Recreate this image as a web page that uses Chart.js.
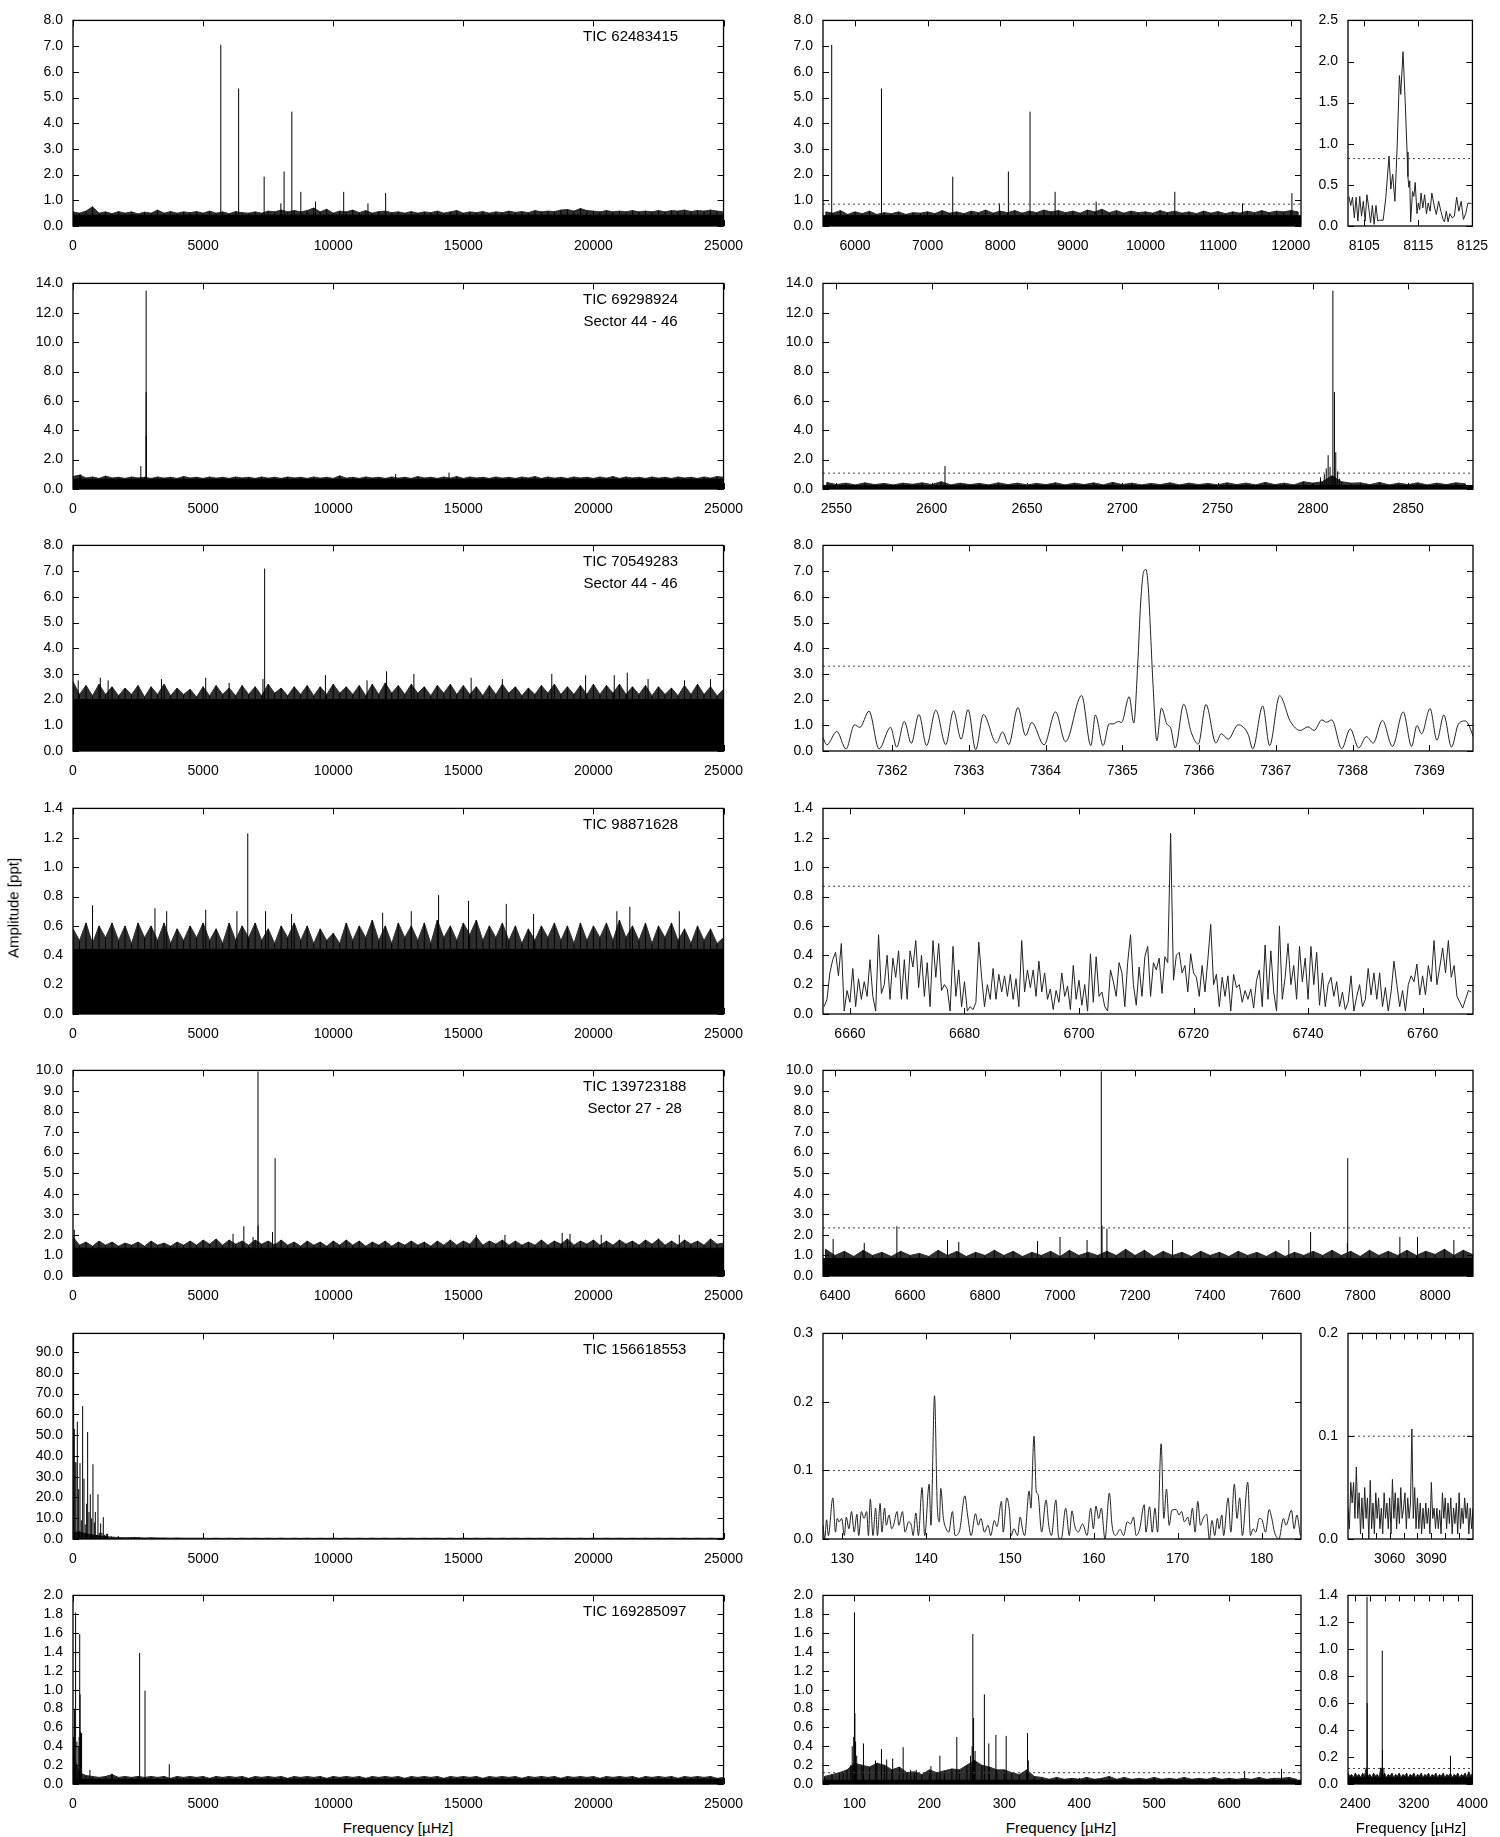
<!DOCTYPE html>
<html>
<head>
<meta charset="utf-8">
<script src="https://cdn.jsdelivr.net/npm/chart.js@4.4.1/dist/chart.umd.min.js"></script>
<style>
  body { margin: 0; background: #fff; width: 1500px; height: 1837px; position: relative; overflow: hidden;
         font-family: "Liberation Sans", Arial, Helvetica, sans-serif; }
  canvas { position: absolute; }
  .ann { position: absolute; font-size: 15px; line-height: 21.7px; text-align: center; white-space: nowrap; color: #000; }
  .title { position: absolute; font-size: 15px; white-space: nowrap; color: #000; transform: translate(-50%, -50%); }
</style>
</head>
<body>
<script>
/* ===== Data (frequency in µHz, amplitude in ppt) ===== */

// Row 1: TIC 62483415
const r1LeftFloor = 0.42;
const r1LeftNoise = [
  0.55,0.50,0.58,0.75,0.50,0.55,0.48,0.56,0.50,0.55, 0.47,0.54,0.50,0.62,0.50,0.56,0.50,0.55,0.52,0.56,
  0.50,0.58,0.50,0.55,0.48,0.56,0.52,0.50,0.55,0.50, 0.58,0.55,0.62,0.55,0.60,0.55,0.60,0.70,0.55,0.65,
  0.50,0.58,0.55,0.62,0.52,0.60,0.50,0.56,0.58,0.52, 0.55,0.50,0.56,0.50,0.55,0.52,0.58,0.50,0.55,0.60,
  0.50,0.55,0.52,0.56,0.50,0.55,0.52,0.58,0.53,0.56, 0.52,0.60,0.55,0.58,0.56,0.62,0.64,0.58,0.68,0.60,
  0.58,0.55,0.60,0.55,0.58,0.55,0.60,0.55,0.58,0.55, 0.60,0.55,0.60,0.58,0.62,0.56,0.60,0.58,0.62,0.58, 0.55];
const r1Peaks = [[5680,7.05],[6365,5.35],[7346,1.92],[7988,0.88],[8112,2.12],[8410,4.45],[8755,1.33],
  [9320,0.95],[10403,1.33],[11335,0.88],[12015,1.28]];
const r1RightFloor = 0.40;
const r1RightNoiseStart = 5600, r1RightNoiseStep = 100;
const r1RightNoise = [
  0.55,0.50,0.60,0.45,0.55,0.48,0.58,0.45,0.52,0.48, 0.55,0.45,0.52,0.50,0.55,0.48,0.60,0.50,0.55,0.48,
  0.58,0.52,0.62,0.50,0.58,0.52,0.60,0.50,0.58,0.52, 0.62,0.55,0.60,0.52,0.58,0.50,0.62,0.55,0.65,0.52,
  0.60,0.50,0.58,0.52,0.55,0.50,0.60,0.52,0.58,0.50, 0.55,0.48,0.58,0.50,0.56,0.48,0.55,0.50,0.58,0.52,
  0.60,0.52,0.58,0.55,0.60,0.55];
const r1Threshold = 0.85;
const r1Zoom = [[8102.17,0.36],[8102.5,0.25],[8102.83,0.35],[8103.17,0.10],[8103.5,0.35],[8103.83,0.06],
  [8104.17,0.36],[8104.5,0.12],[8104.83,0.30],[8105.17,0.06],[8105.5,0.38],[8105.83,0.22],[8106.17,0.04],
  [8106.5,0.25],[8106.83,0.02],[8107.17,0.25],[8107.5,0.06],[8107.83,0.07],[8108.5,0.07],[8109.0,0.35],
  [8109.58,0.85],[8109.92,0.45],[8110.25,0.63],[8110.67,0.30],[8111.08,0.95],[8111.5,1.83],[8111.75,1.60],
  [8112.17,2.12],[8112.58,1.50],[8112.92,0.90],[8113.08,0.60],[8113.25,0.47],[8113.42,0.55],[8113.58,0.05],
  [8113.92,0.42],[8114.17,0.36],[8114.42,0.53],[8114.75,0.15],[8115.0,0.28],[8115.25,0.20],[8115.5,0.40],
  [8115.83,0.22],[8116.17,0.38],[8116.5,0.15],[8116.83,0.28],[8117.17,0.18],[8117.5,0.40],[8117.92,0.25],
  [8118.33,0.14],[8118.75,0.30],[8119.17,0.18],[8119.58,0.08],[8119.83,0.05],[8120.17,0.18],[8120.5,0.05],
  [8120.83,0.15],[8121.25,0.10],[8121.67,0.12],[8122.08,0.35],[8122.5,0.18],[8122.92,0.30],[8123.33,0.08],
  [8123.75,0.15],[8124.17,0.28],[8124.83,0.27]];
const r1ZoomThreshold = 0.82;

// Row 2: TIC 69298924
const r2LeftFloor = 0.66;
const r2LeftNoise = [
  0.85,0.95,0.75,0.82,0.72,0.88,0.75,0.80,0.72,0.82, 0.75,0.80,0.72,0.82,0.74,0.80,0.72,0.85,0.75,0.80,
  0.72,0.82,0.74,0.80,0.72,0.82,0.75,0.80,0.72,0.82, 0.74,0.80,0.72,0.82,0.75,0.80,0.72,0.82,0.74,0.80,
  0.72,0.90,0.74,0.80,0.72,0.82,0.75,0.80,0.72,0.82, 0.74,0.80,0.72,0.85,0.75,0.80,0.72,0.82,0.74,0.85,
  0.72,0.82,0.75,0.80,0.72,0.82,0.74,0.80,0.72,0.82, 0.75,0.85,0.72,0.82,0.74,0.80,0.72,0.82,0.75,0.80,
  0.72,0.82,0.74,0.85,0.72,0.82,0.75,0.80,0.72,0.82, 0.74,0.80,0.72,0.82,0.75,0.80,0.72,0.82,0.74,0.85, 0.80];
const r2Peaks = [[300,1.0],[2607,1.56],[2810.5,13.5],[2811.3,6.6],[2814,3.6],[12400,1.02],[14450,1.12]];
const r2RightFloor = 0.24;
const r2RightNoiseStart = 2545, r2RightNoiseStep = 5;
const r2RightNoise = [
  0.45,0.30,0.40,0.28,0.42,0.30,0.38,0.28,0.40,0.32, 0.42,0.30,0.50,0.28,0.40,0.30,0.38,0.28,0.42,0.30,
  0.40,0.28,0.38,0.30,0.42,0.28,0.40,0.30,0.42,0.28, 0.45,0.30,0.40,0.28,0.38,0.30,0.42,0.28,0.40,0.30,
  0.38,0.28,0.42,0.30,0.40,0.28,0.45,0.30,0.40,0.28, 0.50,0.40,0.50,0.90,0.50,0.40,0.42,0.30,0.45,0.28,
  0.40,0.30,0.42,0.28,0.40,0.30,0.42,0.35];
const r2RightPeaks = [[2607,1.56],[2804,0.8],[2806,1.0],[2807,1.4],[2808,2.3],[2809,1.5],[2810.5,13.5],
  [2811.3,6.6],[2812,2.5],[2813,1.2],[2814,0.7]];
const r2Threshold = 1.08;

// Row 3: TIC 70549283
const r3LeftFloor = 2.0;
const r3LeftNoise = [
  2.70,2.20,2.55,2.15,2.60,2.20,2.50,2.15,2.45,2.20, 2.55,2.10,2.50,2.20,2.60,2.15,2.45,2.20,2.40,2.10,
  2.50,2.15,2.55,2.20,2.45,2.15,2.55,2.20,2.50,2.15, 2.60,2.25,2.45,2.15,2.50,2.20,2.55,2.15,2.50,2.20,
  2.60,2.25,2.50,2.20,2.55,2.15,2.60,2.20,2.65,2.25, 2.55,2.20,2.60,2.25,2.50,2.15,2.55,2.25,2.60,2.20,
  2.55,2.20,2.50,2.15,2.55,2.20,2.60,2.25,2.50,2.15, 2.45,2.20,2.55,2.25,2.60,2.20,2.50,2.20,2.55,2.20,
  2.60,2.20,2.55,2.25,2.60,2.20,2.50,2.20,2.55,2.15, 2.50,2.20,2.45,2.15,2.55,2.20,2.60,2.20,2.50,2.15, 2.40];
const r3LeftHairs = [[200,2.75],[1050,2.85],[1350,2.75],[3400,2.8],[5100,2.85],[6000,2.65],[7300,2.8],[9700,2.95],
  [11300,2.75],[12050,3.1],[13100,3.0],[15300,2.85],[16500,2.8],[18400,3.0],[19700,2.95],[20800,2.95],
  [21300,3.05],[22100,2.8],[23500,2.75],[24500,2.8]];
const r3Peaks = [[7365.3,7.1]];
const r3Zoom = [[7361.10,0.52],[7361.15,0.24],[7361.28,0.76],[7361.40,0.08],[7361.51,1.02],[7361.58,0.92],
  [7361.70,1.55],[7361.83,0.08],[7361.98,0.92],[7362.06,0.15],[7362.16,1.15],[7362.25,0.30],[7362.35,1.42],
  [7362.45,0.21],[7362.57,1.59],[7362.70,0.25],[7362.80,1.56],[7362.90,0.46],[7362.99,1.61],[7363.09,0.05],
  [7363.19,1.42],[7363.36,0.31],[7363.44,0.74],[7363.52,0.25],[7363.64,1.69],[7363.74,0.60],[7363.82,1.11],
  [7363.98,0.24],[7364.13,1.52],[7364.26,0.36],[7364.47,2.16],[7364.59,0.21],[7364.65,1.40],[7364.75,0.21],
  [7364.83,1.06],[7364.88,1.05],[7364.95,1.15],[7364.99,1.11],[7365.09,2.11],[7365.15,1.09],[7365.20,3.3],
  [7365.24,5.8],[7365.28,7.0],[7365.31,7.06],[7365.34,6.3],[7365.37,4.5],[7365.40,2.6],[7365.45,0.40],
  [7365.51,1.67],[7365.58,1.05],[7365.63,0.90],[7365.69,0.12],[7365.80,1.82],[7365.90,0.71],[7365.99,0.27],
  [7366.09,1.81],[7366.22,0.31],[7366.29,0.67],[7366.38,0.46],[7366.51,1.02],[7366.64,0.65],[7366.70,0.08],
  [7366.83,1.75],[7366.92,0.21],[7367.05,2.15],[7367.19,1.15],[7367.32,0.80],[7367.42,0.94],[7367.50,0.80],
  [7367.60,1.21],[7367.66,1.12],[7367.73,1.21],[7367.86,0.09],[7367.97,0.86],[7368.08,0.12],[7368.18,0.56],
  [7368.27,0.31],[7368.39,1.19],[7368.52,0.18],[7368.66,1.52],[7368.77,0.18],[7368.84,0.99],[7368.90,0.67],
  [7369.01,1.65],[7369.10,0.42],[7369.19,1.40],[7369.29,0.15],[7369.38,1.05],[7369.47,1.17],[7369.59,0.46]];
const r3Threshold = 3.3;

// Row 4: TIC 98871628
const r4LeftFloor = 0.44;
const r4LeftNoise = [
  0.58,0.50,0.62,0.48,0.60,0.52,0.62,0.50,0.60,0.48, 0.62,0.52,0.60,0.50,0.62,0.48,0.58,0.50,0.60,0.52,
  0.62,0.50,0.58,0.48,0.62,0.50,0.60,0.52,0.62,0.50, 0.58,0.48,0.60,0.52,0.62,0.50,0.60,0.48,0.58,0.50,
  0.55,0.48,0.62,0.50,0.60,0.52,0.64,0.50,0.60,0.48, 0.62,0.52,0.60,0.50,0.62,0.48,0.64,0.52,0.60,0.50,
  0.62,0.54,0.64,0.50,0.60,0.52,0.62,0.50,0.60,0.48, 0.58,0.50,0.60,0.52,0.62,0.50,0.60,0.48,0.62,0.50,
  0.60,0.52,0.62,0.50,0.64,0.52,0.60,0.50,0.62,0.48, 0.60,0.52,0.62,0.50,0.58,0.48,0.60,0.50,0.58,0.48, 0.52];
const r4LeftHairs = [[750,0.74],[3150,0.72],[3600,0.70],[5100,0.71],[6300,0.70],[7400,0.70],[8400,0.68],
  [11900,0.69],[13000,0.70],[14050,0.81],[15200,0.77],[16650,0.75],[17700,0.68],[20900,0.70],[21400,0.73],[23300,0.70]];
const r4Peaks = [[6716,1.23]];
const r4ZoomStart = 6655.5, r4ZoomStep = 0.5;
const r4Zoom = [
  0.05,0.10,0.28,0.37,0.42,0.26,0.48,0.02,0.16,0.08, 0.31,0.05,0.24,0.10,0.22,0.12,0.37,0.12,0.02,0.54,
  0.14,0.20,0.40,0.10,0.38,0.25,0.43,0.10,0.37,0.10, 0.43,0.32,0.50,0.18,0.40,0.12,0.35,0.05,0.50,0.25,
  0.48,0.16,0.20,0.17,0.02,0.46,0.12,0.30,0.05,0.22, 0.02,0.05,0.03,0.08,0.49,0.25,0.05,0.20,0.10,0.31,
  0.10,0.27,0.15,0.26,0.12,0.27,0.10,0.24,0.05,0.50, 0.15,0.30,0.18,0.30,0.12,0.36,0.15,0.28,0.10,0.17,
  0.03,0.16,0.08,0.28,0.12,0.19,0.03,0.33,0.10,0.23, 0.06,0.20,0.02,0.41,0.08,0.39,0.12,0.15,0.05,0.02,
  0.30,0.22,0.12,0.35,0.28,0.05,0.35,0.54,0.20,0.06, 0.32,0.12,0.39,0.46,0.12,0.35,0.30,0.38,0.14,0.39,
  0.35,1.23,0.23,0.40,0.42,0.28,0.33,0.15,0.41,0.28, 0.25,0.12,0.33,0.15,0.37,0.61,0.20,0.27,0.05,0.25,
  0.12,0.26,0.02,0.27,0.18,0.20,0.08,0.16,0.10,0.17, 0.04,0.23,0.30,0.05,0.47,0.10,0.43,0.15,0.02,0.60,
  0.10,0.25,0.48,0.20,0.33,0.10,0.46,0.22,0.38,0.10, 0.46,0.20,0.42,0.06,0.28,0.05,0.20,0.25,0.12,0.22,
  0.05,0.15,0.03,0.08,0.26,0.02,0.12,0.20,0.05,0.10, 0.31,0.13,0.28,0.10,0.28,0.05,0.18,0.02,0.15,0.36,
  0.20,0.05,0.16,0.02,0.20,0.26,0.22,0.34,0.13,0.26, 0.13,0.33,0.22,0.50,0.20,0.32,0.45,0.28,0.50,0.25,
  0.33,0.12,0.08,0.04,0.10,0.16,0.15];
const r4Threshold = 0.87;

// Row 5: TIC 139723188
const r5LeftFloor = 1.35;
const r5LeftNoise = [
  1.90,1.50,1.65,1.45,1.70,1.50,1.65,1.45,1.60,1.50, 1.65,1.45,1.70,1.50,1.60,1.45,1.65,1.50,1.70,1.50,
  1.75,1.55,1.80,1.50,1.75,1.55,1.70,1.50,1.75,1.55, 1.70,1.50,1.75,1.50,1.65,1.45,1.70,1.50,1.65,1.45,
  1.70,1.50,1.75,1.50,1.70,1.45,1.65,1.50,1.70,1.45, 1.65,1.50,1.70,1.50,1.65,1.45,1.70,1.50,1.75,1.50,
  1.70,1.55,1.90,1.50,1.70,1.55,1.75,1.50,1.70,1.50, 1.65,1.50,1.75,1.50,1.70,1.55,1.80,1.50,1.70,1.55,
  1.75,1.50,1.70,1.50,1.75,1.55,1.70,1.50,1.75,1.55, 1.80,1.50,1.70,1.50,1.75,1.55,1.70,1.50,1.80,1.55, 1.60];
const r5LeftHairs = [[50,2.25],[6150,2.05],[6920,1.9],[15500,2.0],[16600,2.0],[18800,2.1],[19100,2.05],[20300,2.0],[23300,2.0]];
const r5Peaks = [[6565,2.42],[7110,9.95],[7112,2.45],[7668,2.14],[7767,5.73],[7766,1.6]];
const r5RightFloor = 0.85;
const r5RightNoiseStart = 6375, r5RightNoiseStep = 25;
const r5RightNoise = [
  1.30,1.00,1.20,0.95,1.25,1.00,1.15,0.95,1.20,1.00, 1.10,0.95,1.25,1.00,1.20,0.95,1.15,1.00,1.25,1.00,
  1.20,0.95,1.15,1.00,1.20,0.95,1.25,1.00,1.15,1.00, 1.20,1.00,1.30,1.00,1.25,0.95,1.20,1.00,1.15,0.95,
  1.20,1.00,1.15,0.95,1.20,1.00,1.15,0.95,1.20,0.95, 1.15,1.00,1.20,1.00,1.25,1.00,1.20,0.95,1.25,1.00,
  1.20,1.00,1.25,1.00,1.20,1.05,1.30,1.00,1.25,1.05];
const r5RightHairs = [[6395,1.8],[6478,1.6],[6700,1.75],[6730,1.65],[6940,1.7],[7000,1.9],[7072,1.75],[7125,2.3],
  [7300,1.75],[7610,1.75],[7906,1.9],[7953,1.9],[8050,1.75]];
const r5Threshold = 2.34;

// Row 6: TIC 156618553
const r6LeftNoise = [
  3.0,3.5,2.5,2.0,1.5,1.2,0.9,0.7,0.6,0.7, 0.6,0.5,0.6,0.5,0.5,0.4,0.5,0.4,0.4,0.4,
  0.4,0.3,0.4,0.3,0.4,0.3,0.4,0.3,0.4,0.3, 0.4,0.3,0.4,0.3,0.4,0.3,0.4,0.3,0.4,0.3,
  0.4,0.3,0.4,0.3,0.4,0.3,0.4,0.3,0.4,0.3, 0.4,0.3,0.4,0.3,0.4,0.3,0.4,0.3,0.4,0.3,
  0.4,0.3,0.4,0.3,0.4,0.3,0.4,0.3,0.4,0.3, 0.4,0.3,0.4,0.3,0.4,0.3,0.4,0.3,0.4,0.3,
  0.4,0.3,0.4,0.3,0.4,0.3,0.4,0.3,0.4,0.3, 0.4,0.3,0.4,0.3,0.4,0.3,0.4,0.3,0.4,0.3, 0.4];
const r6Peaks = [[25,99],[50,53],[80,37],[115,37],[166,56.5],[217,24],[269,36.5],[320,9],[371,64],[422,29],
  [470,7],[524,17],[563,51.5],[614,13],[665,21.5],[716,10],[767,36],[820,8],[857,13],[910,2],[959,21.5],
  [1010,3],[1062,7.5],[1110,3],[1164,10.5],[1215,2],[1279,2.5],[1330,2.5],[1400,0.5],[1480,1.2],[1580,0.8],
  [1740,1.5],[1850,0.5],[2250,0.6],[2379,1.0],[2460,0.6],[2532,1.0],[2650,0.5],[2788,0.5],[3300,0.4]];
const r6Zoom = [[127.7,0.02],[127.9,0.0],[128.13,0.028],[128.34,0.005],[128.87,0.06],[129.19,0.01],[129.4,0.03],
  [129.62,0.025],[129.93,0.03],[130.25,0.005],[130.47,0.032],[130.79,0.015],[131.1,0.04],[131.42,0.01],
  [131.74,0.036],[131.96,0.005],[132.28,0.04],[132.59,0.03],[132.91,0.04],[133.12,0.005],[133.34,0.058],
  [133.66,0.005],[133.98,0.045],[134.19,0.005],[134.51,0.052],[134.72,0.01],[135.04,0.045],[135.25,0.02],
  [135.57,0.035],[135.89,0.015],[136.11,0.02],[136.53,0.04],[136.74,0.02],[137.17,0.04],[137.49,0.01],
  [137.91,0.025],[138.23,0.02],[138.45,0.005],[138.77,0.038],[139.08,0.005],[139.51,0.075],[139.83,0.005],
  [140.36,0.08],[140.57,0.02],[141.0,0.209],[141.32,0.05],[141.58,0.025],[141.74,0.074],[142.06,0.03],
  [142.38,0.015],[142.7,0.01],[143.13,0.04],[143.45,0.005],[143.98,0.012],[144.62,0.063],[144.94,0.035],
  [145.36,0.005],[145.89,0.037],[146.21,0.02],[146.53,0.03],[146.96,0.01],[147.38,0.02],[147.7,0.005],
  [148.13,0.027],[148.45,0.018],[148.98,0.055],[149.19,0.01],[149.62,0.06],[149.94,0.04],[150.15,0.005],
  [150.47,0.015],[150.9,0.005],[151.21,0.032],[151.53,0.012],[151.75,0.005],[152.28,0.07],[152.49,0.045],
  [152.86,0.15],[153.13,0.07],[153.34,0.065],[153.77,0.01],[154.3,0.057],[154.62,0.02],[154.94,0.005],
  [155.47,0.057],[155.79,0.003],[156.11,0.0],[156.64,0.045],[157.07,0.005],[157.39,0.041],[157.7,0.02],
  [158.13,0.01],[158.66,0.022],[159.19,0.005],[159.62,0.045],[159.94,0.015],[160.25,0.048],[160.57,0.03],
  [160.89,0.045],[161.32,0.0],[161.85,0.067],[162.17,0.02],[162.59,0.005],[163.12,0.014],[163.55,0.005],
  [163.98,0.025],[164.4,0.022],[164.72,0.032],[165.04,0.005],[165.47,0.015],[166.0,0.05],[166.21,0.01],
  [166.64,0.047],[166.96,0.01],[167.28,0.045],[167.6,0.01],[168.02,0.139],[168.34,0.03],[168.66,0.073],
  [168.98,0.02],[169.3,0.042],[169.83,0.043],[170.15,0.035],[170.47,0.04],[170.79,0.025],[171.22,0.032],
  [171.43,0.02],[171.75,0.045],[172.07,0.01],[172.39,0.055],[172.71,0.02],[173.03,0.03],[173.45,0.036],
  [173.77,0.0],[174.09,0.027],[174.41,0.005],[174.73,0.03],[174.94,0.015],[175.26,0.035],[175.47,0.005],
  [176.01,0.06],[176.33,0.01],[176.75,0.08],[177.07,0.03],[177.39,0.06],[177.71,0.005],[178.35,0.083],
  [178.67,0.005],[178.99,0.015],[179.3,0.01],[179.73,0.03],[180.05,0.028],[180.47,0.01],[180.9,0.043],
  [181.22,0.03],[181.54,0.01],[182.07,0.0],[182.6,0.03],[182.92,0.02],[183.56,0.042],[183.88,0.015],
  [184.2,0.035],[184.62,0.005]];
const r6Threshold = 0.1;
const r6Zoom2Start = 3030, r6Zoom2Step = 1;
const r6Zoom2 = [
  0.030,0.010,0.055,0.035,0.055,0.020,0.070,0.020,0.045,0.005, 0.040,0.010,0.050,0.020,0.040,0.000,0.057,0.010,0.035,0.005,
  0.045,0.020,0.040,0.010,0.030,0.005,0.045,0.020,0.035,0.010, 0.040,0.005,0.058,0.020,0.045,0.010,0.040,0.015,0.050,0.020,
  0.030,0.045,0.010,0.040,0.020,0.035,0.107,0.020,0.050,0.010, 0.040,0.010,0.035,0.005,0.030,0.010,0.035,0.015,0.030,0.005,
  0.055,0.020,0.030,0.010,0.030,0.010,0.028,0.005,0.045,0.020, 0.040,0.010,0.035,0.015,0.040,0.005,0.030,0.015,0.035,0.005,
  0.045,0.010,0.030,0.015,0.040,0.020,0.035,0.005,0.030,0.010, 0.030];
const r6Zoom2Threshold = 0.1;

// Row 7: TIC 169285097
const r7LeftFloor = 0.05;
const r7LeftNoise = [
  0.30,0.12,0.09,0.08,0.07,0.08,0.10,0.07,0.08,0.07, 0.08,0.07,0.08,0.07,0.08,0.06,0.08,0.07,0.08,0.07,
  0.08,0.06,0.08,0.07,0.08,0.07,0.08,0.06,0.08,0.07, 0.08,0.07,0.08,0.06,0.08,0.07,0.08,0.07,0.08,0.06,
  0.08,0.07,0.08,0.07,0.08,0.06,0.08,0.07,0.08,0.07, 0.08,0.06,0.08,0.07,0.08,0.07,0.08,0.06,0.08,0.07,
  0.08,0.07,0.08,0.06,0.08,0.07,0.08,0.07,0.08,0.06, 0.08,0.07,0.08,0.07,0.08,0.06,0.08,0.07,0.08,0.07,
  0.08,0.06,0.08,0.07,0.08,0.07,0.08,0.06,0.08,0.07, 0.08,0.07,0.08,0.06,0.08,0.07,0.08,0.07,0.08,0.06, 0.07];
const r7LeftPeaks = [[20,0.5],[60,0.8],[100,1.82],[150,0.45],[200,0.4],[237,0.5],[258,1.59],[273,0.95],[290,0.55],
  [310,0.52],[331,0.54],[650,0.15],[1500,0.11],[2560,1.39],[2768,0.99],[3700,0.21]];
const r7RightFloor = 0.04;
const r7RightNoiseStart = 60, r7RightNoiseStep = 10;
const r7RightNoise = [
  0.08,0.10,0.12,0.15,0.22,0.20,0.18,0.22,0.20,0.15, 0.18,0.12,0.13,0.10,0.15,0.12,0.14,0.16,0.15,0.20,
  0.25,0.20,0.18,0.15,0.15,0.12,0.10,0.15,0.08,0.07, 0.05,0.07,0.05,0.06,0.05,0.07,0.05,0.06,0.08,0.05,
  0.07,0.05,0.06,0.05,0.07,0.05,0.06,0.05,0.07,0.05, 0.06,0.05,0.07,0.05,0.06,0.05,0.06,0.05,0.07,0.05,
  0.06,0.06,0.07,0.05];
const r7RightPeaks = [[85,0.12],[95,0.2],[97,0.4],[99,0.5],[100,1.82],[100.6,0.75],[101.5,0.45],[103,0.3],
  [112,0.43],[128,0.25],[136,0.37],[143,0.26],[151,0.27],[165,0.39],[175,0.15],[182.5,0.15],[202,0.19],
  [214,0.30],[236.6,0.50],[255,0.3],[257,0.4],[258,1.59],[259,0.70],[261,0.35],[273.4,0.95],[279.3,0.43],
  [288.8,0.52],[302.5,0.51],[331,0.54],[332,0.25],[620.8,0.14],[670,0.16]];
const r7Threshold = 0.12;
const r7Zoom2Floor = 0.045;
const r7Zoom2NoiseStart = 2300, r7Zoom2NoiseStep = 25;
const r7Zoom2Noise = [
  0.08,0.06,0.07,0.05,0.08,0.06,0.07,0.05,0.08,0.06, 0.12,0.06,0.07,0.05,0.08,0.06,0.07,0.05,0.12,0.06,
  0.08,0.05,0.07,0.06,0.08,0.05,0.07,0.06,0.08,0.05, 0.07,0.06,0.08,0.05,0.07,0.06,0.08,0.05,0.07,0.06,
  0.08,0.05,0.07,0.06,0.08,0.05,0.07,0.06,0.08,0.05, 0.07,0.06,0.08,0.05,0.07,0.06,0.08,0.05,0.07,0.06,
  0.08,0.05,0.07,0.06,0.08,0.05,0.09,0.06,0.08];
const r7Zoom2Peaks = [[2560,1.39],[2562,0.6],[2768,0.99],[2771,0.25],[2790,0.12],[3700,0.21]];
const r7Zoom2Threshold = 0.115;

const starLabels = [['TIC 62483415'], ['TIC 69298924', 'Sector 44 - 46'], ['TIC 70549283', 'Sector 44 - 46'],
  ['TIC 98871628'], ['TIC 139723188', 'Sector 27 - 28'], ['TIC 156618553'], ['TIC 169285097']];

/* ===== Layout ===== */
const ROW_TOP = [14, 277, 539, 802, 1064, 1327, 1589];
const ROW_BOTTOM = [226, 489, 751, 1014, 1276, 1539, 1784];
const COL_LEFT = { x0: 73, x1: 725, yw: 73, padR: 30 };
const COL_RIGHT_WIDE = { x0: 823, x1: 1473, yw: 50, padR: 27 };
const COL_RIGHT = { x0: 823, x1: 1301, yw: 50, padR: 22 };
const COL_THIRD = { x0: 1348, x1: 1473, yw: 40, padR: 27 };
const TICK_LEN = 6;
const NOISE_GREY = '#2e2e2e';

Chart.defaults.font.family = '"Liberation Sans", Arial, Helvetica, sans-serif';
Chart.defaults.font.size = 14;
Chart.defaults.color = '#000';

/* ===== Helpers ===== */
function tickRange(from, to, step) {
  const out = [];
  for (let v = from; v <= to + step * 1e-6; v += step) {out.push(Number(v.toFixed(6)));}
  return out;
}
function stepPairs(start, step, vals) {
  return vals.map((v, i) => [Number((start + i * step).toFixed(4)), v]);
}
function toPoints(pairs) { return pairs.map(([x, y]) => ({ x, y })); }
function impulseSeries(pairs) {
  const out = [];
  pairs.forEach(([x, y]) => { out.push({ x, y: 0 }, { x, y }, { x, y: null }); });
  return out;
}

// draw order: lower "order" ends up on top
const spikeDS = (pairs, order) => ({ data: impulseSeries(pairs), showLine: true, borderColor: '#000',
  borderWidth: 1, pointRadius: 0, spanGaps: false, order: order === undefined ? 2 : order });
// noise band: dark envelope underneath, solid black floor, and a black hair at every sample
function noiseSet(pairs, floor, xMin, xMax) {
  const sets = [
    { data: toPoints(pairs), showLine: true, fill: 'origin', backgroundColor: NOISE_GREY, borderColor: NOISE_GREY,
      borderWidth: 1, pointRadius: 0, order: 30 },
    spikeDS(pairs, 10)
  ];
  if (floor) {
    sets.push({ data: [{ x: xMin, y: floor }, { x: xMax, y: floor }], showLine: true, fill: 'origin',
      backgroundColor: '#000', borderColor: '#000', borderWidth: 1, pointRadius: 0, order: 20 });
  }
  return sets;
}
const curveDS = (pairs, smooth) => ({ data: toPoints(pairs), showLine: true, borderColor: '#222', borderWidth: 1,
  pointRadius: 0, cubicInterpolationMode: smooth ? 'monotone' : 'default', tension: 0, order: 2 });
const threshDS = (v, min, max) => ({ data: [{ x: min, y: v }, { x: max, y: v }], showLine: true,
  borderColor: '#444', borderWidth: 1, borderDash: [2, 3], pointRadius: 0, order: 1 });

const xAxis = (min, max, ticks, labelled) => ({ min, max, ticks,
  label: v => (!labelled || labelled.includes(v)) ? String(v) : '' });
const yAxis = (max, step, tickMax) => ({ min: 0, max, ticks: tickRange(0, tickMax === undefined ? max : tickMax, step),
  label: v => v.toFixed(1) });

/* ===== Frame and inward mirror ticks ===== */
const framePlugin = {
  id: 'frame',
  afterDraw(chart) {
    const { ctx, chartArea: a } = chart;
    const sx = chart.scales.x, sy = chart.scales.y;
    ctx.save();
    ctx.strokeStyle = '#000';
    ctx.lineWidth = 1;
    ctx.beginPath();
    sx.ticks.forEach(t => {
      const p = Math.round(sx.getPixelForValue(t.value)) + 0.5;
      ctx.moveTo(p, a.bottom); ctx.lineTo(p, a.bottom - TICK_LEN);
      ctx.moveTo(p, a.top); ctx.lineTo(p, a.top + TICK_LEN);
    });
    sy.ticks.forEach(t => {
      const p = Math.round(sy.getPixelForValue(t.value)) + 0.5;
      ctx.moveTo(a.left, p); ctx.lineTo(a.left + TICK_LEN, p);
      ctx.moveTo(a.right, p); ctx.lineTo(a.right - TICK_LEN, p);
    });
    ctx.stroke();
    ctx.lineWidth = 1.3;
    ctx.strokeRect(a.left, a.top, a.right - a.left, a.bottom - a.top);
    ctx.restore();
  }
};

function addPanel(col, row, xa, ya, datasets) {
  const padT = 12, xh = 34;
  const y0 = ROW_TOP[row], y1 = ROW_BOTTOM[row];
  const cv = document.createElement('canvas');
  cv.width = (col.x1 - col.x0) + col.yw + col.padR;
  cv.height = (y1 - y0) + padT + xh;
  cv.style.left = (col.x0 - col.yw) + 'px';
  cv.style.top = (y0 - padT) + 'px';
  cv.style.width = cv.width + 'px';
  cv.style.height = cv.height + 'px';
  document.body.appendChild(cv);

  const scale = (a, pos) => ({
    type: 'linear', position: pos, min: a.min, max: a.max, bounds: 'data',
    grid: { display: false, drawTicks: false }, border: { display: false },
    afterBuildTicks: s => { s.ticks = a.ticks.map(v => ({ value: v })); },
    afterFit: s => { if (pos === 'bottom') {s.height = xh;} else {s.width = col.yw;} },
    ticks: { autoSkip: false, maxRotation: 0, minRotation: 0, padding: pos === 'bottom' ? 12 : 10,
      callback: v => a.label(v) }
  });

  new Chart(cv, {
    type: 'scatter',
    data: { datasets },
    options: {
      responsive: false, animation: false, devicePixelRatio: 1, events: [],
      layout: { autoPadding: false, padding: { top: padT, right: col.padR, left: 0, bottom: 0 } },
      plugins: { legend: { display: false }, tooltip: { enabled: false } },
      scales: { x: scale(xa, 'bottom'), y: scale(ya, 'left') }
    },
    plugins: [framePlugin]
  });
}

/* ===== Panels ===== */
const fullX = xAxis(0, 25000, tickRange(0, 25000, 5000));
const leftNoise = (vals, floor) => noiseSet(stepPairs(0, 250, vals), floor, 0, 25000);

// Row 1
addPanel(COL_LEFT, 0, fullX, yAxis(8, 1), [...leftNoise(r1LeftNoise, r1LeftFloor), spikeDS(r1Peaks)]);
addPanel(COL_RIGHT, 0, xAxis(5560, 12140, tickRange(6000, 12000, 1000)), yAxis(8, 1), [
  ...noiseSet(stepPairs(r1RightNoiseStart, r1RightNoiseStep, r1RightNoise), r1RightFloor, 5560, 12140),
  spikeDS(r1Peaks), threshDS(r1Threshold, 5560, 12140)]);
addPanel(COL_THIRD, 0, xAxis(8102, 8125, [8105, 8115, 8125]), yAxis(2.5, 0.5), [
  curveDS(r1Zoom, false), threshDS(r1ZoomThreshold, 8102, 8125)]);

// Row 2
addPanel(COL_LEFT, 1, fullX, yAxis(14, 2), [...leftNoise(r2LeftNoise, r2LeftFloor), spikeDS(r2Peaks)]);
addPanel(COL_RIGHT_WIDE, 1, xAxis(2543, 2884, tickRange(2550, 2850, 50)), yAxis(14, 2), [
  ...noiseSet(stepPairs(r2RightNoiseStart, r2RightNoiseStep, r2RightNoise), r2RightFloor, 2543, 2884),
  spikeDS(r2RightPeaks), threshDS(r2Threshold, 2543, 2884)]);

// Row 3
addPanel(COL_LEFT, 2, fullX, yAxis(8, 1), [...leftNoise(r3LeftNoise, r3LeftFloor), spikeDS(r3LeftHairs), spikeDS(r3Peaks)]);
addPanel(COL_RIGHT_WIDE, 2, xAxis(7361.1, 7369.57, tickRange(7362, 7369, 1)), yAxis(8, 1), [
  curveDS(r3Zoom, true), threshDS(r3Threshold, 7361.1, 7369.57)]);

// Row 4
addPanel(COL_LEFT, 3, fullX, yAxis(1.4, 0.2), [...leftNoise(r4LeftNoise, r4LeftFloor), spikeDS(r4LeftHairs), spikeDS(r4Peaks)]);
addPanel(COL_RIGHT_WIDE, 3, xAxis(6655.3, 6768.8, tickRange(6660, 6760, 20)), yAxis(1.4, 0.2), [
  curveDS(stepPairs(r4ZoomStart, r4ZoomStep, r4Zoom), false), threshDS(r4Threshold, 6655.3, 6768.8)]);

// Row 5
addPanel(COL_LEFT, 4, fullX, yAxis(10, 1), [...leftNoise(r5LeftNoise, r5LeftFloor), spikeDS(r5LeftHairs), spikeDS(r5Peaks)]);
addPanel(COL_RIGHT_WIDE, 4, xAxis(6368, 8101, tickRange(6400, 8000, 200)), yAxis(10, 1), [
  ...noiseSet(stepPairs(r5RightNoiseStart, r5RightNoiseStep, r5RightNoise), r5RightFloor, 6368, 8101),
  spikeDS(r5RightHairs), spikeDS(r5Peaks), threshDS(r5Threshold, 6368, 8101)]);

// Row 6
addPanel(COL_LEFT, 5, fullX, yAxis(99, 10, 90), [...leftNoise(r6LeftNoise, 0), spikeDS(r6Peaks)]);
addPanel(COL_RIGHT, 5, xAxis(127.7, 184.7, tickRange(130, 180, 10)), yAxis(0.3, 0.1), [
  curveDS(r6Zoom, true), threshDS(r6Threshold, 127.7, 184.7)]);
addPanel(COL_THIRD, 5, xAxis(3030, 3120, tickRange(3040, 3110, 10), [3060, 3090]), yAxis(0.2, 0.1), [
  curveDS(stepPairs(r6Zoom2Start, r6Zoom2Step, r6Zoom2), false), threshDS(r6Zoom2Threshold, 3030, 3120)]);

// Row 7
addPanel(COL_LEFT, 6, fullX, yAxis(2, 0.2), [...leftNoise(r7LeftNoise, r7LeftFloor), spikeDS(r7LeftPeaks)]);
addPanel(COL_RIGHT, 6, xAxis(58, 696, tickRange(100, 600, 100)), yAxis(2, 0.2), [
  ...noiseSet(stepPairs(r7RightNoiseStart, r7RightNoiseStep, r7RightNoise), r7RightFloor, 58, 696),
  spikeDS(r7RightPeaks), threshDS(r7Threshold, 58, 696)]);
addPanel(COL_THIRD, 6, xAxis(2300, 4000, tickRange(2400, 4000, 200), [2400, 3200, 4000]), yAxis(1.4, 0.2), [
  ...noiseSet(stepPairs(r7Zoom2NoiseStart, r7Zoom2NoiseStep, r7Zoom2Noise), r7Zoom2Floor, 2300, 4000),
  spikeDS(r7Zoom2Peaks), threshDS(r7Zoom2Threshold, 2300, 4000)]);

/* ===== Text ===== */
starLabels.forEach((lines, i) => {
  const d = document.createElement('div');
  d.className = 'ann';
  d.style.left = '583px';
  d.style.top = (ROW_TOP[i] + 11) + 'px';
  d.innerHTML = lines.join('<br>');
  document.body.appendChild(d);
});

function addTitle(text, cx, cy, rotate) {
  const d = document.createElement('div');
  d.className = 'title';
  d.textContent = text;
  d.style.left = cx + 'px';
  d.style.top = cy + 'px';
  if (rotate) {d.style.transform = 'translate(-50%, -50%) rotate(-90deg)';}
  document.body.appendChild(d);
}
addTitle('Amplitude [ppt]', 13, 908, true);
addTitle('Frequency [µHz]', 398, 1827);
addTitle('Frequency [µHz]', 1061, 1827);
addTitle('Frequency [µHz]', 1411, 1827);
</script>
</body>
</html>
